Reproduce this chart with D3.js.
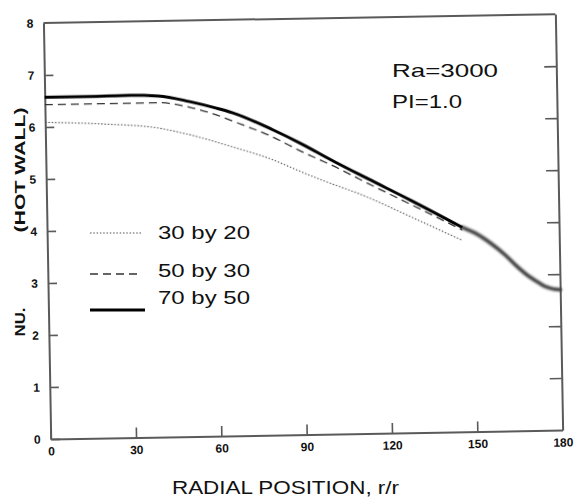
<!DOCTYPE html>
<html>
<head>
<meta charset="utf-8">
<script src="https://cdn.jsdelivr.net/npm/d3@7"></script>
<style>
  html, body { margin: 0; padding: 0; background: #fff; }
  svg { display: block; font-family: "Liberation Sans", Arial, Helvetica, sans-serif; }
</style>
</head>
<body>
<svg id="chart" width="574" height="499"></svg>
<script>
// ---- data ----
const xTicks = [0, 30, 60, 90, 120, 150, 180];
const yTicks = [0, 1, 2, 3, 4, 5, 6, 7, 8];

const seriesNames = ["30 by 20", "50 by 30", "70 by 50"];

const x30by20 = [0, 20, 40, 51, 66, 80, 89, 95, 113, 128, 146];
const y30by20 = [6.09, 6.04, 5.94, 5.80, 5.55, 5.29, 5.07, 4.93, 4.54, 4.15, 3.68];

const x50by30 = [0, 20, 40, 51, 60, 66, 80, 89, 103, 113, 128, 146];
const y50by30 = [6.43, 6.43, 6.43, 6.33, 6.18, 6.05, 5.73, 5.47, 5.10, 4.81, 4.39, 3.88];

const x70by50 = [0, 15, 30, 40, 51, 60, 66, 80, 90, 101, 113, 128, 146];
const y70by50 = [6.57, 6.57, 6.58, 6.56, 6.44, 6.31, 6.21, 5.87, 5.59, 5.25, 4.90, 4.47, 3.93];

// merged tail of the curves (drawn grey, thick)
const xTail = [146, 151, 156, 161, 165, 169, 172, 175, 178, 180];
const yTail = [3.93, 3.80, 3.61, 3.38, 3.16, 2.97, 2.86, 2.76, 2.71, 2.70];

const xTitle = "RADIAL POSITION, r/r";
const yTitleA = "NU.";
const yTitleB = "(HOT WALL)";
const annot = ["Ra=3000", "PI=1.0"];

// ---- drawing ----
const svg = d3.select("#chart");
const W = 512, H = 416;
const x = d3.scaleLinear().domain([0, 180]).range([0, W]);
const y = d3.scaleLinear().domain([0, 8]).range([0, -H]);

const defs = svg.append("defs");
defs.append("filter").attr("id", "blur").append("feGaussianBlur").attr("stdDeviation", 0.9);
defs.append("filter").attr("id", "soft").append("feGaussianBlur").attr("stdDeviation", 0.35);

// plot group is slightly rotated like the scanned original
const g = svg.append("g").attr("transform", "translate(50.7,439) rotate(-1)");

const axisColor = "#5a5a5a";

const gx = g.append("g").call(d3.axisBottom(x).tickValues(xTicks).tickSizeInner(-10).tickSizeOuter(0).tickPadding(8));
const gy = g.append("g").call(d3.axisLeft(y).tickValues(yTicks).tickSizeInner(-9).tickSizeOuter(0).tickPadding(10));
const gr = g.append("g").attr("transform", `translate(${W},0)`)
  .call(d3.axisRight(y).tickValues(yTicks).tickSizeInner(-12).tickSizeOuter(0).tickFormat(""));
g.append("line").attr("x1", 0).attr("x2", W).attr("y1", -H).attr("y2", -H)
  .attr("stroke", axisColor).attr("stroke-width", 2);

[gx, gy, gr].forEach(a => {
  a.select(".domain").attr("stroke", axisColor).attr("stroke-width", 2);
  a.selectAll(".tick line").attr("stroke", axisColor).attr("stroke-width", 1.6);
  a.selectAll(".tick text").attr("fill", "#111").attr("font-size", 12)
    .attr("font-weight", "bold").attr("font-family", "'Liberation Sans', Arial, sans-serif");
});
gx.selectAll(".tick").filter(d => d === 180).select("line").remove();
gy.selectAll(".tick").filter(d => d === 8).select("line").remove();
gr.selectAll(".tick").filter(d => d === 8 || d === 0).select("line").remove();

const line = d3.line().x(d => x(d[0])).y(d => y(d[1])).curve(d3.curveMonotoneX);
const zip = (xs, ys) => xs.map((v, i) => [v, ys[i]]);

g.append("path").datum(zip(xTail, yTail)).attr("d", line)
  .attr("fill", "none").attr("stroke", "#3a3a3a").attr("stroke-width", 3.6)
  .attr("stroke-linecap", "round").attr("filter", "url(#blur)");

const styles = [
  { dash: "1.5,1.8", w: 1.1, c: "#555" },
  { dash: "8,5", w: 1.3, c: "#333" },
  { dash: null, w: 3, c: "#000" }
];
const series = [zip(x30by20, y30by20), zip(x50by30, y50by30), zip(x70by50, y70by50)];
series.forEach((s, i) => {
  const p = g.append("path").datum(s).attr("d", line)
    .attr("fill", "none").attr("stroke", styles[i].c).attr("stroke-width", styles[i].w)
    .attr("filter", "url(#soft)");
  if (styles[i].dash) p.attr("stroke-dasharray", styles[i].dash);
});

// legend
const legLineY = [233, 274, 310];
const legTextY = [239, 277, 304];
const legLen = [51, 52, 55];
const leg = svg.append("g");
seriesNames.forEach((n, i) => {
  const l = leg.append("line").attr("x1", 90).attr("x2", 90 + legLen[i])
    .attr("y1", legLineY[i]).attr("y2", legLineY[i])
    .attr("stroke", styles[i].c).attr("stroke-width", styles[i].w);
  if (styles[i].dash) l.attr("stroke-dasharray", styles[i].dash);
  leg.append("text").attr("x", 158).attr("y", legTextY[i]).text(n)
    .attr("font-size", 19).attr("fill", "#111")
    .attr("textLength", 92).attr("lengthAdjust", "spacingAndGlyphs");
});

// annotation
svg.append("text").attr("x", 392).attr("y", 77).text(annot[0])
  .attr("font-size", 19).attr("fill", "#111")
  .attr("textLength", 106).attr("lengthAdjust", "spacingAndGlyphs");
svg.append("text").attr("x", 392).attr("y", 108).text(annot[1])
  .attr("font-size", 19).attr("fill", "#111")
  .attr("textLength", 70).attr("lengthAdjust", "spacingAndGlyphs");

// axis titles
svg.append("text").attr("x", 172).attr("y", 494).text(xTitle)
  .attr("font-size", 19).attr("fill", "#111")
  .attr("textLength", 227).attr("lengthAdjust", "spacingAndGlyphs");

svg.append("text").attr("transform", "translate(25,322) rotate(-90)")
  .attr("text-anchor", "middle").attr("font-size", 14).attr("font-weight", "bold")
  .attr("fill", "#111").attr("textLength", 29).attr("lengthAdjust", "spacingAndGlyphs")
  .text(yTitleA);
svg.append("text").attr("transform", "translate(25,170) rotate(-90)")
  .attr("text-anchor", "middle").attr("font-size", 14).attr("font-weight", "bold")
  .attr("fill", "#111").attr("textLength", 125).attr("lengthAdjust", "spacingAndGlyphs")
  .text(yTitleB);
</script>
</body>
</html>
